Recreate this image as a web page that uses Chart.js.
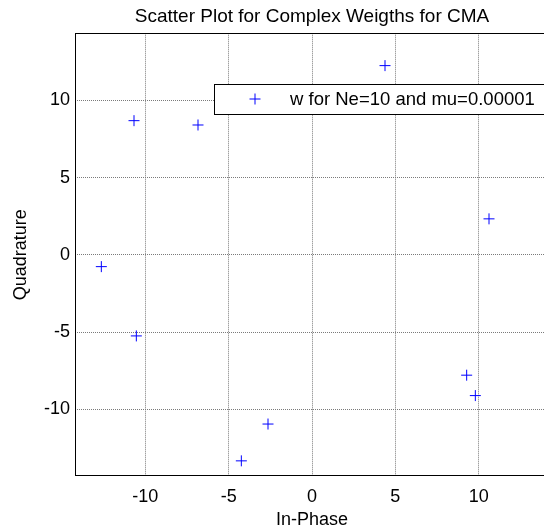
<!DOCTYPE html>
<html>
<head>
<meta charset="utf-8">
<script src="https://cdn.jsdelivr.net/npm/chart.js"></script>
<style>
  html, body { margin: 0; padding: 0; overflow: hidden; background: #fff; }
  #wrap { width: 560px; height: 529px; }
</style>
</head>
<body>
<div id="wrap"><canvas id="scatter-chart" width="560" height="529"></canvas></div>
<script>
// CMA weights: real part on x (in-phase), imaginary part on y (quadrature)
var inPhase    = [-10.68, -6.84, -12.64, -10.54, 9.28, 9.80, -2.64, -4.24, 4.38, 10.62];
var quadrature = [8.68, 8.40, -0.76, -5.24, -7.78, -9.10, -10.94, -13.32, 12.24, 2.33];
var xTicks = [-10, -5, 0, 5, 10];
var yTicks = [-10, -5, 0, 5, 10];
var xLimits = [-14.22, 14.22];
var yLimits = [-14.3, 14.33];
var seriesLabel = "w for Ne=10 and mu=0.00001";
var chartTitle = "Scatter Plot for Complex Weigths for CMA";

var points = [];
for (var i = 0; i < inPhase.length; i++) {
  points.push({x: inPhase[i], y: quadrature[i]});
}

Chart.defaults.font.family = "'Liberation Sans', Arial, Helvetica, sans-serif";
Chart.defaults.font.size = 18;
Chart.defaults.color = '#000';

var gridColor = '#7a7a7a';
var markerColor = 'rgb(0, 0, 255)';
var markerSize = 5.5;

// axes box plus a matlab style legend inside the plot
var boxAndLegend = {
  id: 'boxAndLegend',
  afterDraw: function(chart) {
    var ctx = chart.ctx;
    var a = chart.chartArea;
    var l = Math.round(a.left) + 0.5, t = Math.round(a.top) + 0.5;
    var r = Math.round(a.right) - 0.5, b = Math.round(a.bottom) - 0.5;
    ctx.save();
    ctx.strokeStyle = '#000';
    ctx.lineWidth = 1;
    ctx.setLineDash([]);
    ctx.strokeRect(l, t, r - l, b - t);

    // legend
    var lx = 214.5, ly = 84.5, lw = 334, lh = 30;
    var cy = ly + lh / 2;
    ctx.fillStyle = '#fff';
    ctx.fillRect(lx, ly, lw, lh);
    ctx.strokeRect(lx, ly, lw, lh);

    var mx = 255, my = 99;
    ctx.beginPath();
    ctx.moveTo(mx - markerSize, my);
    ctx.lineTo(mx + markerSize, my);
    ctx.moveTo(mx, my - markerSize);
    ctx.lineTo(mx, my + markerSize);
    ctx.strokeStyle = markerColor;
    ctx.lineWidth = 1;
    ctx.stroke();

    ctx.fillStyle = '#000';
    ctx.font = "18.5px 'Liberation Sans', Arial, sans-serif";
    ctx.textAlign = 'left';
    ctx.textBaseline = 'middle';
    ctx.fillText(chart.data.datasets[0].label, 290, cy + 0.5);
    ctx.restore();
  }
};

var mychart = new Chart(document.getElementById("scatter-chart"), {
  type: 'scatter',
  data: {
    datasets: [{
      label: seriesLabel,
      data: points,
      pointStyle: 'cross',
      pointRadius: markerSize,
      borderColor: markerColor,
      backgroundColor: markerColor,
      borderWidth: 1
    }]
  },
  options: {
    responsive: false,
    animation: false,
    devicePixelRatio: 1,
    layout: { padding: { left: 0, right: 11, top: 0, bottom: 0 } },
    plugins: {
      legend: { display: false },
      tooltip: { enabled: false },
      title: {
        display: true,
        text: chartTitle,
        fullSize: false,
        font: { size: 19, weight: 'normal' },
        color: '#000',
        padding: { top: 5, bottom: 5.5 }
      }
    },
    scales: {
      x: {
        type: 'linear',
        min: xLimits[0],
        max: xLimits[1],
        afterBuildTicks: function(scale) {
          scale.ticks = xTicks.map(function(v) { return {value: v}; });
        },
        afterFit: function(scale) { scale.height = 53; },
        grid: { color: gridColor, lineWidth: 1, drawTicks: false },
        border: { display: false, dash: [1, 1] },
        ticks: { padding: 10, maxRotation: 0, font: { size: 18 } },
        title: { display: true, text: 'In-Phase', font: { size: 18, lineHeight: 1.0 }, padding: { top: 0, bottom: 0 } }
      },
      y: {
        type: 'linear',
        min: yLimits[0],
        max: yLimits[1],
        afterBuildTicks: function(scale) {
          scale.ticks = yTicks.map(function(v) { return {value: v}; });
        },
        afterFit: function(scale) { scale.width = 75; },
        grid: { color: gridColor, lineWidth: 1, drawTicks: false },
        border: { display: false, dash: [1, 1] },
        ticks: { padding: 5, font: { size: 18 } },
        title: { display: true, text: 'Quadrature', font: { size: 18 }, padding: { top: 10, bottom: 0 } }
      }
    }
  },
  plugins: [boxAndLegend]
});

mychart.update();
</script>
</body>
</html>
